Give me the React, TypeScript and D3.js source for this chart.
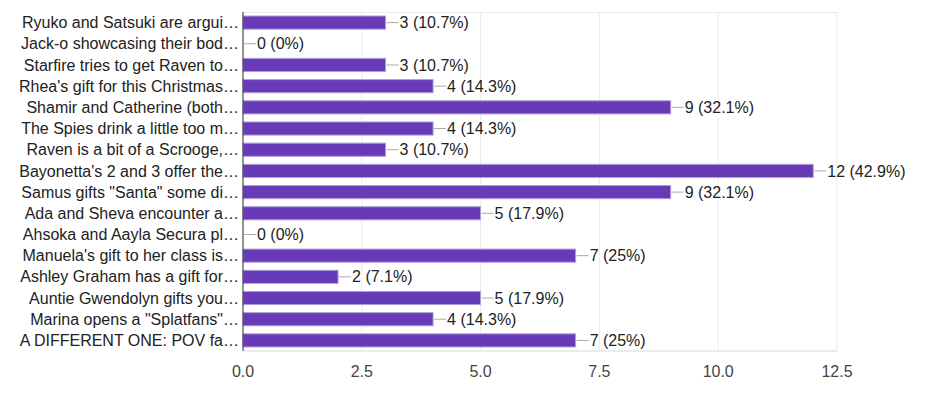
import * as React from "react";
import * as d3 from "d3";

const categories = [
  "Ryuko and Satsuki are argui…",
  "Jack-o showcasing their bod…",
  "Starfire tries to get Raven to…",
  "Rhea's gift for this Christmas…",
  "Shamir and Catherine (both…",
  "The Spies drink a little too m…",
  "Raven is a bit of a Scrooge,…",
  "Bayonetta's 2 and 3 offer the…",
  "Samus gifts \"Santa\" some di…",
  "Ada and Sheva encounter a…",
  "Ahsoka and Aayla Secura pl…",
  "Manuela's gift to her class is…",
  "Ashley Graham has a gift for…",
  "Auntie Gwendolyn gifts you…",
  "Marina opens a \"Splatfans\"…",
  "A DIFFERENT ONE: POV fa…",
];
const counts = [3, 0, 3, 4, 9, 4, 3, 12, 9, 5, 0, 7, 2, 5, 4, 7];
const percents = ["10.7%", "0%", "10.7%", "14.3%", "32.1%", "14.3%", "10.7%", "42.9%", "32.1%", "17.9%", "0%", "25%", "7.1%", "17.9%", "14.3%", "25%"];
const xTicks = [0, 2.5, 5, 7.5, 10, 12.5];

const W = 930,
  H = 406;
const m = { left: 243, right: 93, top: 12, bottom: 55 };

export default function App() {
  const x = d3.scaleLinear().domain([0, 12.5]).range([m.left, W - m.right]);
  const y = d3
    .scaleBand<string>()
    .domain(categories)
    .range([m.top, H - m.bottom])
    .paddingInner(0.38)
    .paddingOuter(0.19);
  const font = "'Liberation Sans', Arial, sans-serif";

  return (
    <svg
      width={W}
      height={H}
      style={{ position: "absolute", left: 0, top: 0, background: "#fff" }}
      fontFamily={font}
    >
      {/* grid */}
      {xTicks.map(t => (
        <line key={t} x1={x(t)} x2={x(t)} y1={m.top} y2={H - m.bottom} stroke="#ebebeb" strokeWidth={1} />
      ))}
      <line x1={m.left} x2={x(12.5)} y1={m.top + 0.5} y2={m.top + 0.5} stroke="#ebebeb" />
      <line x1={m.left} x2={x(12.5)} y1={H - m.bottom} y2={H - m.bottom} stroke="#ebebeb" strokeWidth={2} />

      {categories.map((c, i) => {
        const yc = (y(c) as number) + y.bandwidth() / 2;
        const xe = x(counts[i]);
        return (
          <g key={c}>
            {counts[i] > 0 && (
              <rect
                x={x(0)}
                y={y(c)}
                width={xe - x(0)}
                height={y.bandwidth()}
                fill="#673ab7"
                stroke="#b39ddb"
                strokeWidth={1}
              />
            )}
            <line x1={xe + 1} x2={xe + 13} y1={yc} y2={yc} stroke="#aaaaaa" strokeWidth={1} />
            <text x={xe + 14} y={yc} dy="0.35em" fontSize={16} fill="#222">
              {`${counts[i]} (${percents[i]})`}
            </text>
            <text x={m.left - 4} y={yc} dy="0.35em" fontSize={16} fill="#222" textAnchor="end">
              {c}
            </text>
          </g>
        );
      })}

      <line x1={m.left} x2={m.left} y1={m.top} y2={H - m.bottom} stroke="#333" strokeWidth={1} />

      {xTicks.map(t => (
        <text key={t} x={x(t)} y={H - m.bottom + 26} textAnchor="middle" fontSize={16} fill="#444">
          {d3.format(".1f")(t)}
        </text>
      ))}
    </svg>
  );
}
